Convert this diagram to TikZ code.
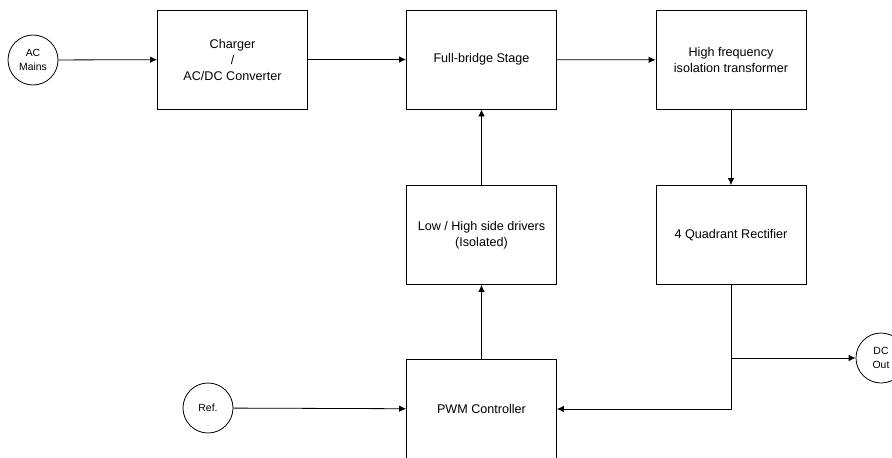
\documentclass[tikz,border=0pt]{standalone}
\usepackage{fontspec}
\setmainfont{Liberation Sans}
\usetikzlibrary{arrows.meta}
\usetikzlibrary{calc}

\begin{document}
\begin{tikzpicture}[x=1pt,y=-1pt,line width=0.8pt,
    block/.style={draw, minimum width=150pt, minimum height=99pt, align=center,
        font=\fontsize{12.6}{16}\selectfont},
    port/.style={draw, circle, minimum size=50pt, inner sep=0pt, align=center,
        font=\fontsize{10.4}{13.5}\selectfont},
    flow/.style={-{Latex[length=7pt,width=6.5pt]}}]
    \useasboundingbox (0,0) rectangle (892,458);

    % top row
    \node[port] (acmains) at (33,60) {AC\\Mains};
    \node[block] (charger) at (232.5,59.5) {Charger\\/\\AC/DC Converter};
    \node[block] (bridge) at (481.5,59.5) {Full-bridge Stage};
    \node[block] (xfmr) at (731,60) {High frequency\\isolation transformer};

    % middle row
    \node[block] (drivers) at (481.5,235) {Low / High side drivers\\(Isolated)};
    \node[block] (rect) at (731,235) {4 Quadrant Rectifier};

    % bottom row
    \node[port] (ref) at (208,408) {Ref.};
    \node[block] (pwm) at (481.5,409) {PWM Controller};
    \node[port] (dcout) at (881,358) {DC\\Out};
    \coordinate (tap) at (rect.south |- dcout.west);

    \draw[flow] (acmains) -- (charger);
    \draw[flow] (charger) -- (bridge);
    \draw[flow] (bridge) -- (xfmr);
    \draw[flow] (xfmr) -- (rect);
    \draw[flow] (pwm) -- (drivers);
    \draw[flow] (drivers) -- (bridge);
    \draw[flow] (ref) -- (pwm);
    \draw[flow] (rect.south) |- (pwm.east);
    \draw[flow] (tap) -- (dcout);
\end{tikzpicture}
\end{document}
